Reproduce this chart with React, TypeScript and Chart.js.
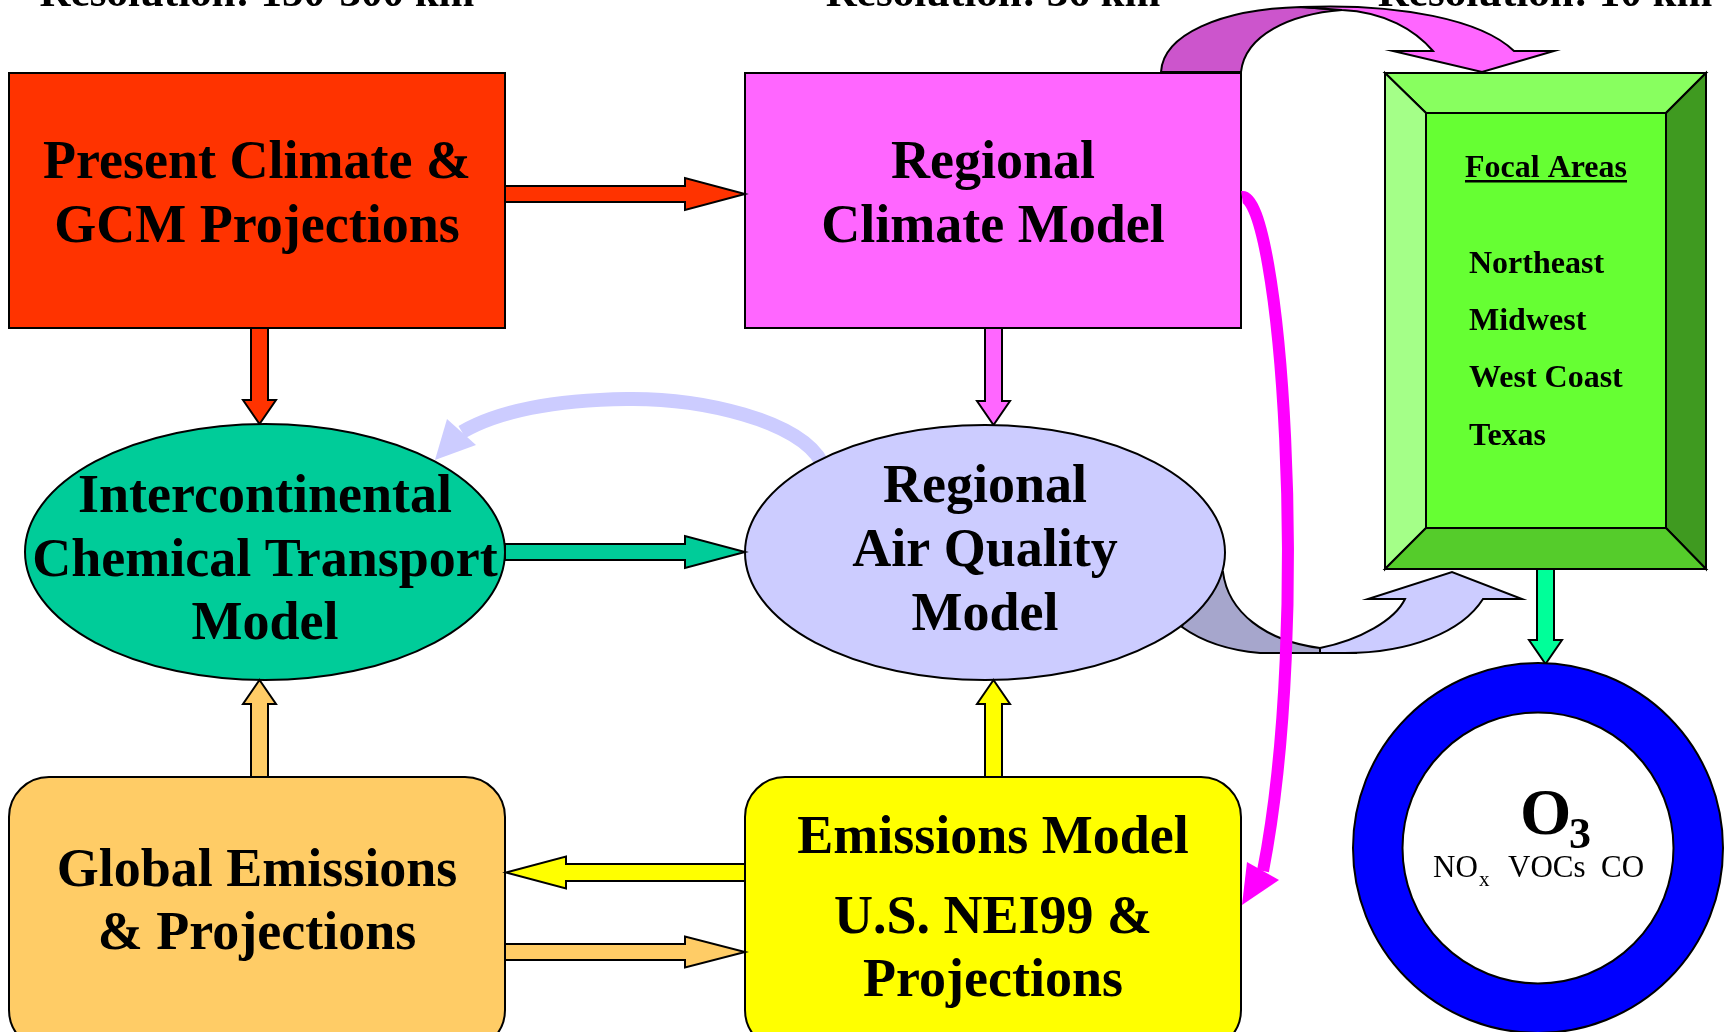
import { useEffect, useRef } from "react";
import { Chart, registerables } from "chart.js";

Chart.register(...registerables);

const W = 1726;
const H = 1032;

// ---- content ----
const topLabels = ["Resolution: 150-300 km", "Resolution: 36 km", "Resolution: 10 km"];
const nodeLines = [
  ["Present Climate &", "GCM Projections"],
  ["Regional", "Climate Model"],
  ["Intercontinental", "Chemical Transport", "Model"],
  ["Regional", "Air Quality", "Model"],
  ["Global Emissions", "& Projections"],
  ["Emissions Model", "U.S. NEI99 &", "Projections"],
];
const focalTitle = "Focal Areas";
const focalAreas = ["Northeast", "Midwest", "West Coast", "Texas"];
const speciesLabels = ["NO", "VOCs", "CO"];
const speciesSub = "x";
const ozoneLabel = ["O", "3"];

// ---- layout (diagram coordinates) ----
const topLabelX = [257, 993, 1545];
const topLabelY = 6;
// kind, x0, y0, x1, y1
const nodeShapes: [string, number, number, number, number][] = [
  ["rect", 9, 73, 505, 328],
  ["rect", 745, 73, 1241, 328],
  ["ellipse", 25, 424, 505, 680],
  ["ellipse", 745, 425, 1225, 680],
  ["round", 9, 777, 505, 1050],
  ["round", 745, 777, 1241, 1050],
];
const nodeFill = ["#ff3300", "#ff66ff", "#00cc99", "#ccccff", "#ffcc66", "#ffff00"];
const nodeBaselines = [
  [178, 242],
  [178, 242],
  [512, 576, 639],
  [502, 566, 630],
  [886, 949],
  [853, 933, 996],
];
const nodeTextX = [257, 993, 265, 985, 257, 993];

const focalOuter = [1385, 73, 1706, 569];
const focalInner = [1426, 113, 1666, 528];
const focalTitleY = 177;
const focalX = 1469;
const focalY = [273, 330, 387, 445];

const ringC = [1538, 848];
const ringR = [185, 135.5];

type Arrow = { from: number[]; to: number[]; shaft: number; head: number; width: number; fill: string };
const arrows: Arrow[] = [
  { from: [505, 194], to: [745, 194], shaft: 16, head: 60, width: 32, fill: "#ff3300" },
  { from: [259.5, 328], to: [259.5, 424], shaft: 17, head: 24, width: 33, fill: "#ff3300" },
  { from: [993.5, 328], to: [993.5, 425], shaft: 17, head: 24, width: 33, fill: "#ff66ff" },
  { from: [505, 552], to: [745, 552], shaft: 16, head: 60, width: 32, fill: "#00cc99" },
  { from: [259.5, 777], to: [259.5, 680], shaft: 17, head: 24, width: 33, fill: "#ffcc66" },
  { from: [993.5, 777], to: [993.5, 680], shaft: 17, head: 24, width: 33, fill: "#ffff00" },
  { from: [745, 872.5], to: [506, 872.5], shaft: 17, head: 60, width: 32, fill: "#ffff00" },
  { from: [505, 952], to: [745, 952], shaft: 16, head: 60, width: 31, fill: "#ffcc66" },
  { from: [1545.5, 569], to: [1545.5, 664], shaft: 17, head: 24, width: 33, fill: "#00ff99" },
];

type Cmd = (string | number)[];
const topArrowBack: Cmd[] = [
  ["M", 1161, 72], ["C", 1163, 35, 1220, 9, 1301, 7], ["L", 1342, 10],
  ["C", 1290, 14, 1245, 35, 1241, 72], ["Z"],
];
const topArrowFront: Cmd[] = [
  ["M", 1301, 7], ["C", 1400, 3, 1482, 20, 1514, 51], ["L", 1554, 51], ["L", 1482, 72],
  ["L", 1393, 51], ["L", 1433, 51], ["C", 1415, 30, 1385, 12, 1342, 10], ["Z"],
];
const lowArrowBack: Cmd[] = [
  ["M", 1200, 560], ["L", 1223, 572], ["C", 1228, 612, 1265, 641, 1320, 648], ["L", 1357, 653],
  ["L", 1260, 653], ["C", 1225, 650, 1200, 640, 1182, 627], ["Z"],
];
const lowArrowFront: Cmd[] = [
  ["M", 1320, 648], ["C", 1360, 640, 1395, 620, 1405, 599], ["L", 1368, 599], ["L", 1452, 572],
  ["L", 1522, 599], ["L", 1483, 599], ["C", 1462, 632, 1410, 653, 1345, 653], ["L", 1320, 653], ["Z"],
];
const feedbackCurve: Cmd[] = [
  ["M", 822, 463], ["C", 800, 420, 700, 398, 627, 399], ["C", 560, 400, 500, 410, 462, 432],
];
const feedbackHead = [[435, 460], [447, 419], [476, 445]];
const magentaCurve: Cmd[] = [["M", 1242, 197], ["C", 1280, 192, 1312, 620, 1263, 871]];
const magentaHead = [[1242, 905], [1247, 862], [1279, 880]];

const SERIF = '"Liberation Serif", "Times New Roman", serif';

const diagramPlugin = {
  id: "diagram",
  afterDraw(chart: any) {
    const ctx: CanvasRenderingContext2D = chart.ctx;
    const xs = chart.scales.x;
    const ys = chart.scales.y;
    const X = (v: number) => xs.getPixelForValue(v);
    const Y = (v: number) => ys.getPixelForValue(v);
    const kx = X(1) - X(0);
    const ky = Y(1) - Y(0);

    const trace = (cmds: Cmd[]) => {
      ctx.beginPath();
      for (const c of cmds) {
        const t = c[0];
        const n = c.slice(1) as number[];
        if (t === "M") ctx.moveTo(X(n[0]), Y(n[1]));
        else if (t === "L") ctx.lineTo(X(n[0]), Y(n[1]));
        else if (t === "C") ctx.bezierCurveTo(X(n[0]), Y(n[1]), X(n[2]), Y(n[3]), X(n[4]), Y(n[5]));
        else if (t === "Z") ctx.closePath();
      }
    };
    const poly = (pts: number[][], fill: string, stroke = true) => {
      ctx.beginPath();
      pts.forEach((p, i) => (i ? ctx.lineTo(X(p[0]), Y(p[1])) : ctx.moveTo(X(p[0]), Y(p[1]))));
      ctx.closePath();
      ctx.fillStyle = fill;
      ctx.fill();
      if (stroke) {
        ctx.strokeStyle = "#000";
        ctx.lineWidth = 2;
        ctx.stroke();
      }
    };
    const fillStroke = (fill: string, lw = 2) => {
      ctx.fillStyle = fill;
      ctx.fill();
      ctx.strokeStyle = "#000";
      ctx.lineWidth = lw;
      ctx.stroke();
    };
    const blockArrow = (a: Arrow) => {
      const [x0, y0] = a.from;
      const [x1, y1] = a.to;
      const dx = x1 - x0, dy = y1 - y0;
      const len = Math.hypot(dx, dy);
      const ux = dx / len, uy = dy / len;
      const nx = -uy, ny = ux;
      const bx = x1 - ux * a.head, by = y1 - uy * a.head;
      const s = a.shaft / 2, w = a.width / 2;
      poly(
        [
          [x0 + nx * s, y0 + ny * s],
          [bx + nx * s, by + ny * s],
          [bx + nx * w, by + ny * w],
          [x1, y1],
          [bx - nx * w, by - ny * w],
          [bx - nx * s, by - ny * s],
          [x0 - nx * s, y0 - ny * s],
        ],
        a.fill
      );
    };
    const drawNode = (i: number) => {
      const [kind, a, b, c, d] = nodeShapes[i];
      ctx.beginPath();
      if (kind === "rect") ctx.rect(X(a), Y(b), X(c) - X(a), Y(d) - Y(b));
      else if (kind === "ellipse")
        ctx.ellipse(X((a + c) / 2), Y((b + d) / 2), ((c - a) / 2) * kx, ((d - b) / 2) * ky, 0, 0, Math.PI * 2);
      else ctx.roundRect(X(a), Y(b), X(c) - X(a), Y(d) - Y(b), 40 * kx);
      fillStroke(nodeFill[i]);
    };
    const text = (s: string, x: number, y: number, font: string, align: CanvasTextAlign = "center") => {
      ctx.font = font;
      ctx.textAlign = align;
      ctx.textBaseline = "alphabetic";
      ctx.fillStyle = "#000";
      ctx.fillText(s, X(x), Y(y));
    };

    ctx.save();
    ctx.lineJoin = "miter";

    // top resolution labels
    topLabels.forEach((s, i) => text(s, topLabelX[i], topLabelY, `bold 43px ${SERIF}`));

    // top curved arrow
    trace(topArrowBack);
    fillStroke("#cc55cc");
    trace(topArrowFront);
    fillStroke("#ff66ff");

    // boxes
    drawNode(0);
    drawNode(1);

    // focal box (beveled)
    const [o0, o1, o2, o3] = focalOuter;
    const [i0, i1, i2, i3] = focalInner;
    poly([[o0, o1], [o2, o1], [i2, i1], [i0, i1]], "#88ff5f");
    poly([[o0, o1], [i0, i1], [i0, i3], [o0, o3]], "#a4ff88");
    poly([[o2, o1], [o2, o3], [i2, i3], [i2, i1]], "#3f9a20");
    poly([[o0, o3], [o2, o3], [i2, i3], [i0, i3]], "#55cc2b");
    poly([[i0, i1], [i2, i1], [i2, i3], [i0, i3]], "#66ff33");

    blockArrow(arrows[0]);
    blockArrow(arrows[1]);
    blockArrow(arrows[2]);

    // feedback curve
    trace(feedbackCurve);
    ctx.strokeStyle = "#ccccff";
    ctx.lineWidth = 14 * kx;
    ctx.lineCap = "butt";
    ctx.stroke();
    poly(feedbackHead, "#ccccff", false);

    // lower curved arrow
    trace(lowArrowBack);
    fillStroke("#a6a6cc");
    trace(lowArrowFront);
    fillStroke("#ccccff");

    drawNode(2);
    drawNode(3);
    blockArrow(arrows[3]);

    drawNode(4);
    drawNode(5);
    for (let k = 4; k < arrows.length; k++) blockArrow(arrows[k]);

    // ozone ring
    ctx.beginPath();
    ctx.arc(X(ringC[0]), Y(ringC[1]), ringR[0] * kx, 0, Math.PI * 2);
    fillStroke("#0000ff");
    ctx.beginPath();
    ctx.arc(X(ringC[0]), Y(ringC[1]), ringR[1] * kx, 0, Math.PI * 2);
    fillStroke("#ffffff");

    // magenta curve
    trace(magentaCurve);
    ctx.strokeStyle = "#ff00ff";
    ctx.lineWidth = 12 * kx;
    ctx.stroke();
    poly(magentaHead, "#ff00ff", false);

    // node texts
    nodeLines.forEach((lines, i) =>
      lines.forEach((s, j) => text(s, nodeTextX[i], nodeBaselines[i][j], `bold 54px ${SERIF}`))
    );

    // focal texts
    text(focalTitle, 1546, focalTitleY, `bold 32px ${SERIF}`);
    ctx.font = `bold 32px ${SERIF}`;
    const tw = ctx.measureText(focalTitle).width;
    ctx.fillRect(X(1546) - tw / 2, Y(focalTitleY + 3), tw, 2.5);
    focalAreas.forEach((s, i) => text(s, focalX, focalY[i], `bold 32px ${SERIF}`, "left"));

    // ozone texts
    text(ozoneLabel[0], 1520, 834, `bold 66px ${SERIF}`, "left");
    text(ozoneLabel[1], 1569, 848, `bold 44px ${SERIF}`, "left");
    text(speciesLabels[0], 1433, 877, `31px ${SERIF}`, "left");
    text(speciesSub, 1479, 886, `21px ${SERIF}`, "left");
    text(speciesLabels[1], 1508, 877, `31px ${SERIF}`, "left");
    text(speciesLabels[2], 1601, 877, `31px ${SERIF}`, "left");

    ctx.restore();
  },
};

const nodeCenters = nodeShapes.map(([, a, b, c, d]) => ({ x: (a + c) / 2, y: (b + d) / 2 }));

export default function App() {
  const ref = useRef<HTMLCanvasElement>(null);
  useEffect(() => {
    if (!ref.current) return;
    const chart = new Chart(ref.current, {
      type: "scatter",
      data: { datasets: [{ data: nodeCenters, pointRadius: 0, showLine: false }] },
      options: {
        animation: false,
        responsive: false,
        events: [],
        layout: { padding: 0 },
        plugins: { legend: { display: false }, tooltip: { enabled: false } },
        scales: {
          x: { type: "linear", min: 0, max: W, display: false },
          y: { type: "linear", min: 0, max: H, reverse: true, display: false },
        },
      },
      plugins: [diagramPlugin],
    });
    return () => chart.destroy();
  }, []);
  return (
    <div style={{ position: "fixed", left: 0, top: 0, width: W, height: H, background: "#fff" }}>
      <canvas ref={ref} width={W} height={H} style={{ display: "block" }} />
    </div>
  );
}
